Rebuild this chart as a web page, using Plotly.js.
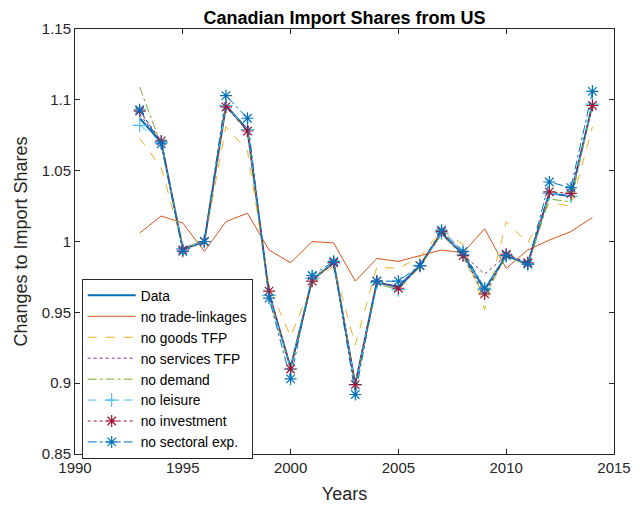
<!DOCTYPE html>
<html>
<head>
<meta charset="utf-8">
<script src="https://cdn.plot.ly/plotly-3.0.1.min.js"></script>
<style>html,body{margin:0;padding:0;background:#fff;}#chart{width:644px;height:510px;}</style>
</head>
<body>
<div id="chart"></div>
<script>
const years = [1993,1994,1995,1996,1997,1998,1999,2000,2001,2002,2003,2004,2005,2006,2007,2008,2009,2010,2011,2012,2013,2014];
const dataSeries   = [1.087,1.070,0.995,1.000,1.096,1.079,0.963,0.911,0.973,0.985,0.899,0.971,0.968,0.983,1.006,0.991,0.966,0.990,0.984,1.034,1.032,1.097];
const noTrade      = [1.006,1.018,1.013,0.993,1.014,1.020,0.994,0.985,1.000,0.999,0.972,0.988,0.986,0.990,0.994,0.992,1.009,0.981,0.994,1.001,1.007,1.017];
const noGoodsTFP   = [1.073,1.052,0.997,0.999,1.081,1.064,0.968,0.933,0.970,0.983,0.927,0.982,0.981,0.989,1.008,0.998,0.952,1.014,0.999,1.027,1.025,1.081];
const noServTFP    = [1.090,1.070,0.995,1.000,1.096,1.079,0.963,0.911,0.974,0.985,0.900,0.971,0.968,0.983,1.006,0.991,0.977,0.990,0.984,1.034,1.032,1.097];
const noDemand     = [1.109,1.068,0.995,1.000,1.095,1.078,0.962,0.910,0.973,0.985,0.899,0.970,0.966,0.982,1.005,0.989,0.961,0.990,0.983,1.030,1.028,1.096];
const noLeisure    = [1.082,1.070,0.995,1.000,1.096,1.079,0.962,0.910,0.974,0.985,0.899,0.971,0.966,0.983,1.006,0.991,0.966,0.990,0.984,1.034,1.032,1.097];
const noInvestment = [1.092,1.071,0.994,1.000,1.095,1.078,0.965,0.910,0.972,0.985,0.899,0.972,0.967,0.983,1.007,0.990,0.963,0.991,0.985,1.035,1.034,1.096];
const noSectoral   = [1.093,1.069,0.993,1.000,1.103,1.087,0.960,0.903,0.976,0.986,0.892,0.972,0.972,0.983,1.008,0.993,0.967,0.990,0.984,1.042,1.038,1.106];
const names = ['Data','no trade-linkages','no goods TFP','no services TFP','no demand','no leisure','no investment','no sectoral exp.'];
const xTicks = [1990,1995,2000,2005,2010,2015];
const yTicks = [0.85,0.9,0.95,1,1.05,1.1,1.15];

const series = [dataSeries,noTrade,noGoodsTFP,noServTFP,noDemand,noLeisure,noInvestment,noSectoral];
const colors = ['#0072BD','#D95319','#EDB120','#7E2F8E','#77AC30','#4DBEEE','#A2142F','#0072BD'];
const dashes = ['solid','solid','dash','dot','dashdot','dash','dot','dashdot'];
const widths = [2,1,1,1,1,1,1,1];
const symbols = [null,null,null,null,null,'cross-thin-open','asterisk-open','asterisk-open'];

const traces = series.map((s,i)=>{
  const t = {x: years, y: s, name: names[i], type:'scatter',
    mode: symbols[i] ? 'lines+markers' : 'lines',
    line:{color:colors[i], dash:dashes[i], width:widths[i]}};
  if(symbols[i]) t.marker = {symbol:symbols[i], size:10, line:{color:colors[i], width:1.2}, color:colors[i]};
  return t;
});

const FONT = 'Liberation Sans, Arial, sans-serif';
const axisCommon = {showgrid:false, zeroline:false, showline:true, linecolor:'#262626', linewidth:1,
  ticks:'inside', ticklen:5, tickcolor:'#262626', mirror:'ticks',
  tickfont:{family:FONT, size:15, color:'#262626'}};

const layout = {
  width:644, height:510,
  margin:{l:75, r:30, t:29, b:56},
  paper_bgcolor:'#fff', plot_bgcolor:'#fff',
  title:{text:'<b>Canadian Import Shares from US</b>', x:0.535, xanchor:'center', y:0.965, yanchor:'middle',
    font:{family:FONT, size:18, color:'#000'}},
  xaxis: Object.assign({}, axisCommon, {range:[1990,2015], tickvals:xTicks, ticktext:xTicks.map(String),
    title:{text:'Years', font:{family:FONT, size:18, color:'#262626'}, standoff:12}}),
  yaxis: Object.assign({}, axisCommon, {range:[0.85,1.15], tickvals:yTicks, ticktext:yTicks.map(v=>String(v)),
    title:{text:'Changes to Import Shares', font:{family:FONT, size:18, color:'#262626'}, standoff:9}}),
  showlegend:true,
  legend:{x:0.0124, y:0.412, xanchor:'left', yanchor:'top', bgcolor:'#fff', bordercolor:'#262626', borderwidth:1,
    font:{family:FONT, size:13.8, color:'#000'}, tracegroupgap:0, itemwidth:48}
};

Plotly.newPlot('chart', traces, layout, {displayModeBar:false, staticPlot:true});
</script>
</body>
</html>
